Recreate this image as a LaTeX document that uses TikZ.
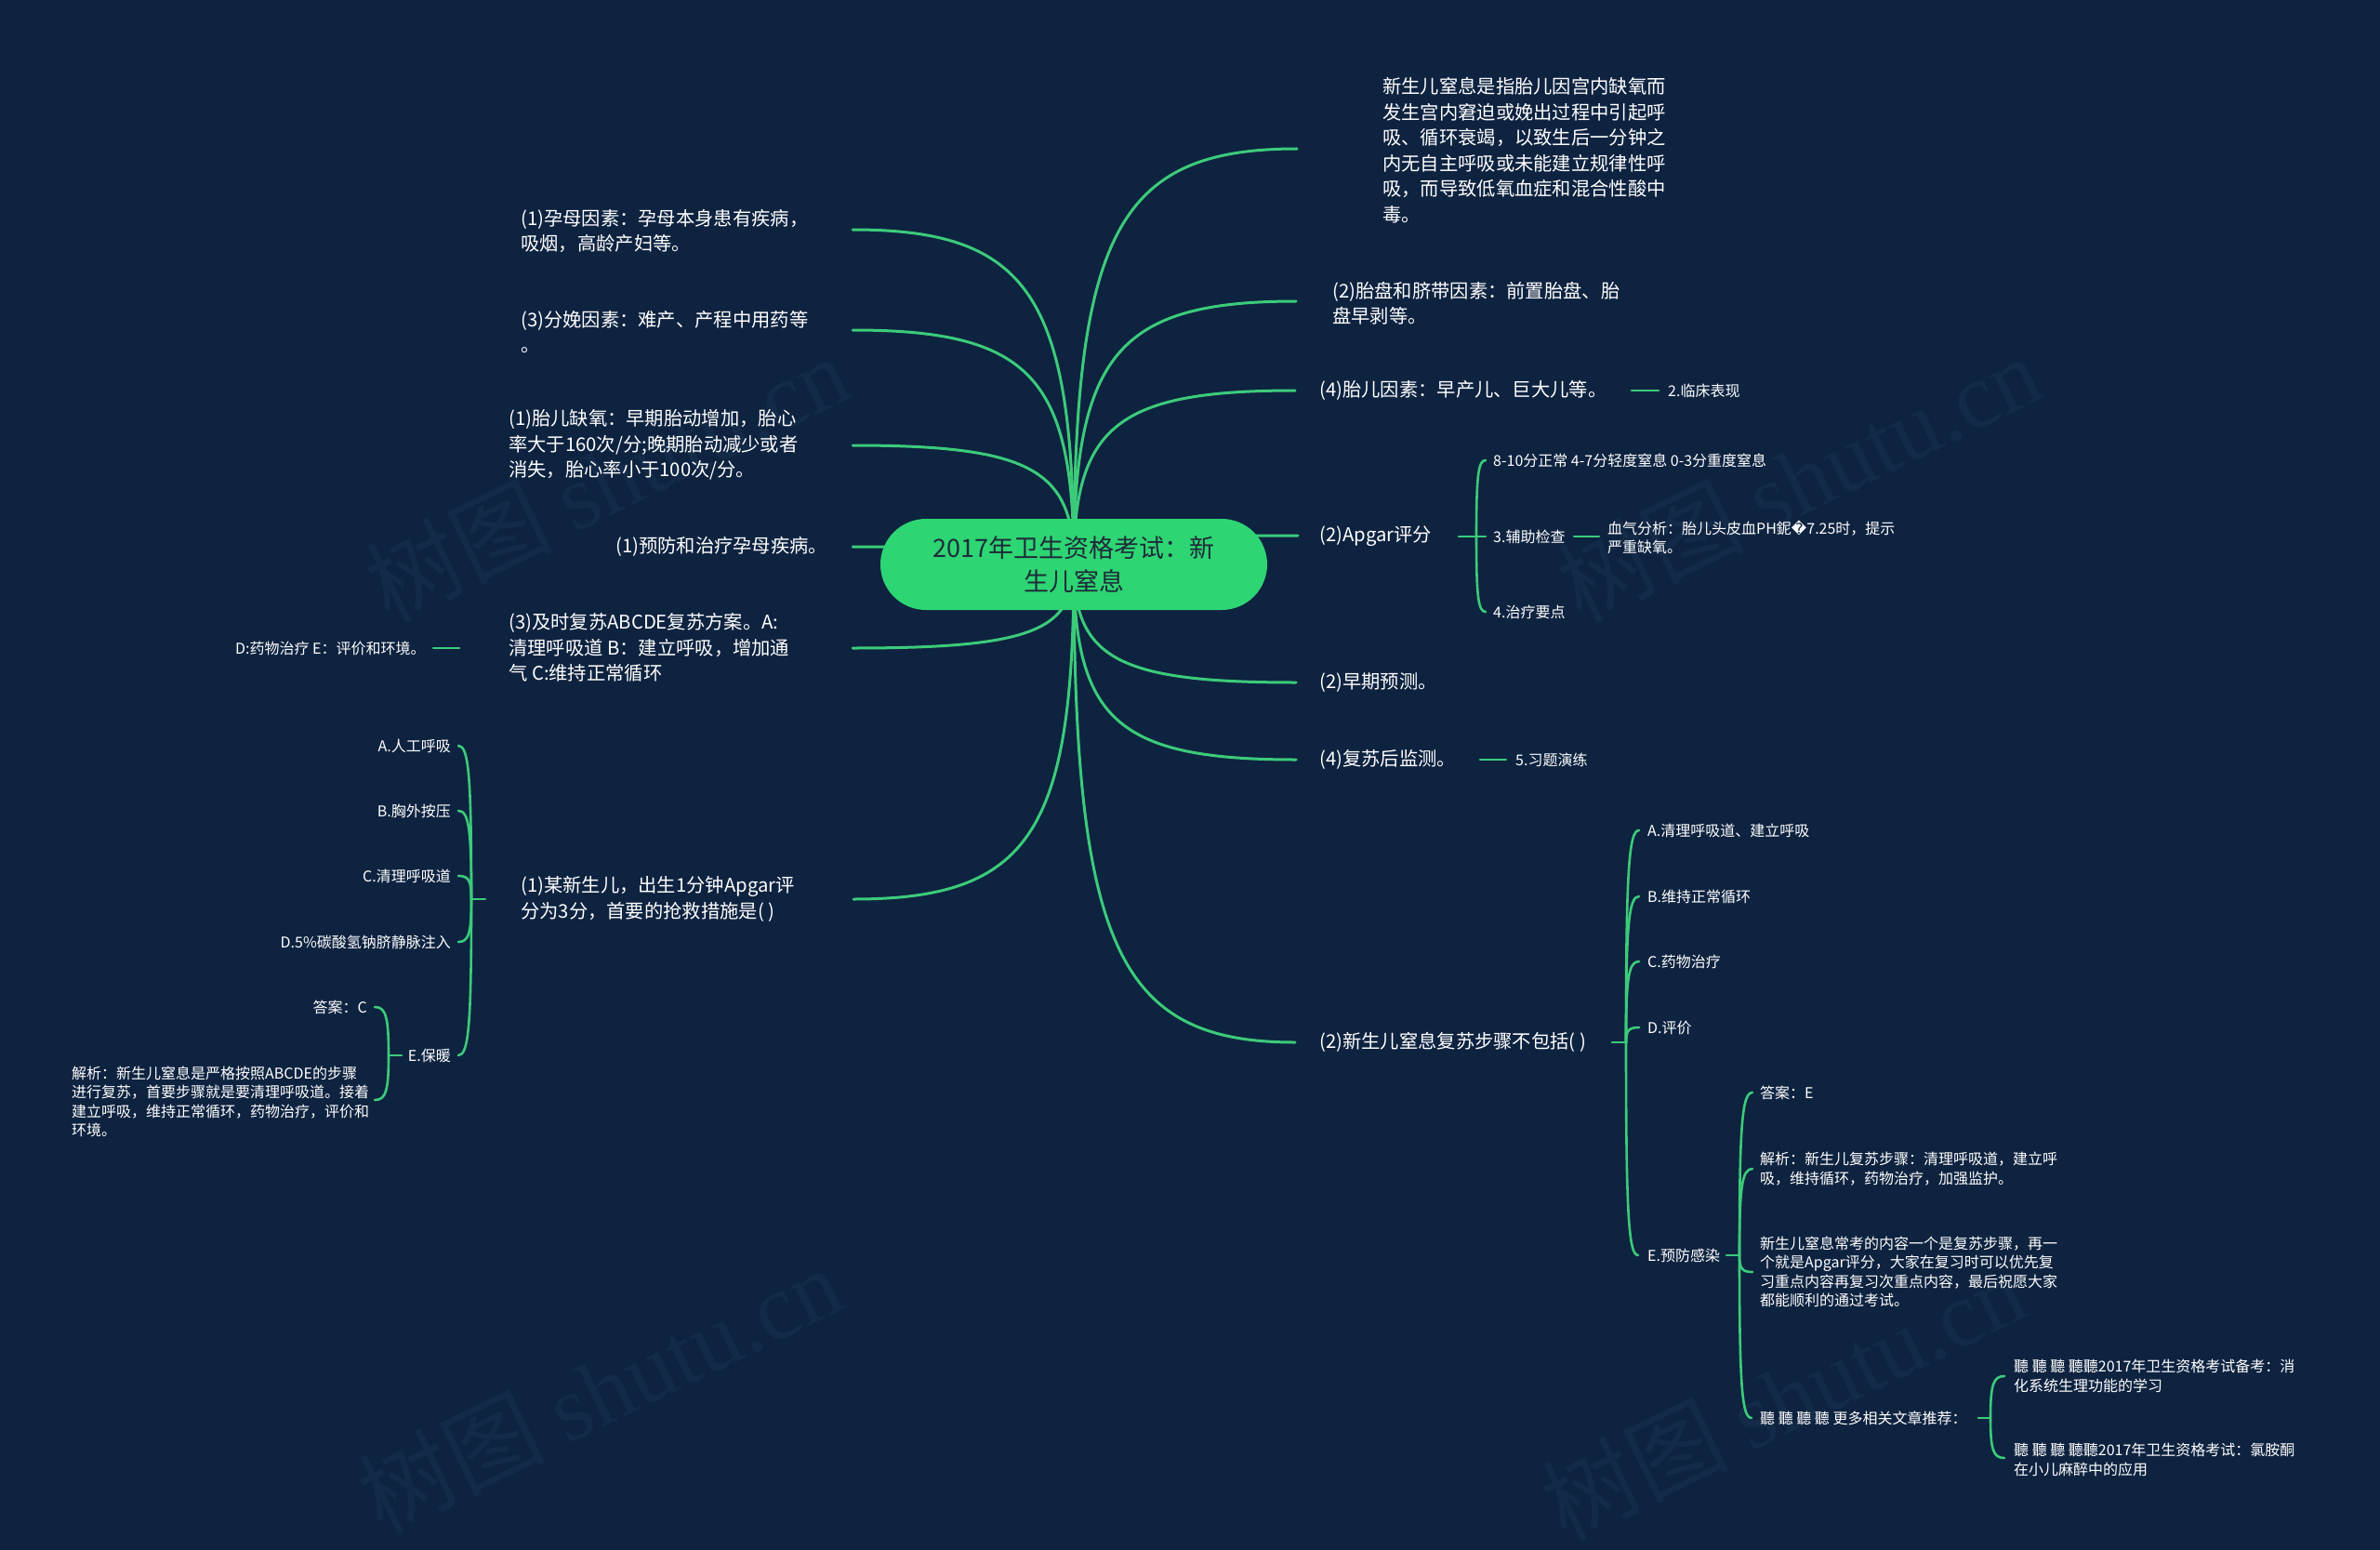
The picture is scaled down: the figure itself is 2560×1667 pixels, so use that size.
\documentclass[tikz,border=0pt]{standalone}
\usepackage{fontspec}
\setmainfont{Noto Sans CJK SC}
\newfontfamily\dejavu{DejaVu Sans}
\newfontfamily\wmserif{Liberation Serif}
\usetikzlibrary{calc}
\definecolor{bgc}{HTML}{0E2340}
\definecolor{lnc}{HTML}{3CCB7A}
\definecolor{ctrfill}{HTML}{2ED573}
\definecolor{ctrtext}{HTML}{1E2B3A}
\definecolor{wmc}{HTML}{132A48}
\pgfdeclarelayer{bglayer}
\pgfdeclarelayer{edgelayer}
\pgfsetlayers{bglayer,edgelayer,main}
\begin{document}
\begin{tikzpicture}[x=1pt,y=-1pt,
  txt/.style={text=white, inner sep=0pt, align=left, font=\fontsize{20.3}{27.5}\selectfont},
  sm/.style={text=white, inner sep=0pt, align=left, font=\fontsize{16}{20.5}\selectfont},
  ln/.style={draw=lnc, line width=3pt, line cap=round},
  bl/.style={draw=lnc, line width=2.6pt, line cap=round},
  wm/.style={text=wmc, inner sep=0pt, rotate=26, font=\fontsize{100}{110}\selectfont},
  brc/.style={to path={.. controls ($(\tikztostart)!0.8!(\tikztostart|-\tikztotarget)$) and ($(\tikztotarget)!0.8!(\tikztostart|-\tikztotarget)$) .. (\tikztotarget) \tikztonodes}},
]
\useasboundingbox (0,0) rectangle (2560,1667);
\begin{pgfonlayer}{bglayer}
\fill[bgc] (0,0) rectangle (2560,1667);
\node[wm] (wm1) at (653,514) {树图 {\wmserif shutu.cn}};
\node[wm] (wm2) at (1935,514) {树图 {\wmserif shutu.cn}};
\node[wm] (wm3) at (645,1494) {树图 {\wmserif shutu.cn}};
\node[wm] (wm4) at (1918,1502) {树图 {\wmserif shutu.cn}};
\end{pgfonlayer}

% centre
\node[fill=ctrfill, rounded corners=49pt, minimum width=416pt, minimum height=98pt, text=ctrtext, align=center, font=\fontsize{27}{36}\selectfont, inner sep=0pt] (ctr) at (1155,607) {2017年卫生资格考试：新\\生儿窒息};

% right side texts
\node[txt, anchor=west] (r1) at (1487,161.5) {新生儿窒息是指胎儿因宫内缺氧而\\发生宫内窘迫或娩出过程中引起呼\\吸、循环衰竭，以致生后一分钟之\\内无自主呼吸或未能建立规律性呼\\吸，而导致低氧血症和混合性酸中\\毒。};
\node[txt, anchor=west] (r2) at (1433,326) {(2)胎盘和脐带因素：前置胎盘、胎\\盘早剥等。};
\node[txt, anchor=west] (r3) at (1419,420) {(4)胎儿因素：早产儿、巨大儿等。};
\node[sm, anchor=west] (r3a) at (1794,420) {2.临床表现};
\node[txt, anchor=west] (r4) at (1419,577) {(2)Apgar评分};
\node[sm, anchor=west] (r4a) at (1606,495) {8-10分正常 4-7分轻度窒息 0-3分重度窒息};
\node[sm, anchor=west] (r4b) at (1606,577) {3.辅助检查};
\node[sm, anchor=west] (r4b1) at (1729,578) {血气分析：胎儿头皮血PH鈮{\dejavu �}7.25时，提示\\严重缺氧。};
\node[sm, anchor=west] (r4c) at (1606,658) {4.治疗要点};
\node[txt, anchor=west] (r5) at (1419,734) {(2)早期预测。};
\node[txt, anchor=west] (r6) at (1419,817) {(4)复苏后监测。};
\node[sm, anchor=west] (r6a) at (1630,817) {5.习题演练};
\node[txt, anchor=west] (r7) at (1419,1121) {(2)新生儿窒息复苏步骤不包括( )};
\node[sm, anchor=west] (r7a) at (1772,893) {A.清理呼吸道、建立呼吸};
\node[sm, anchor=west] (r7b) at (1772,964) {B.维持正常循环};
\node[sm, anchor=west] (r7c) at (1772,1034) {C.药物治疗};
\node[sm, anchor=west] (r7d) at (1772,1105) {D.评价};
\node[sm, anchor=west] (r7e) at (1772,1350) {E.预防感染};
\node[sm, anchor=west] (e1) at (1893,1175) {答案：E};
\node[sm, anchor=west] (e2) at (1893,1257) {解析：新生儿复苏步骤：清理呼吸道，建立呼\\吸，维持循环，药物治疗，加强监护。};
\node[sm, anchor=west] (e3) at (1893,1368) {新生儿窒息常考的内容一个是复苏步骤，再一\\个就是Apgar评分，大家在复习时可以优先复\\习重点内容再复习次重点内容，最后祝愿大家\\都能顺利的通过考试。};
\node[sm, anchor=west] (e4) at (1893,1525) {聽 聽 聽 聽 更多相关文章推荐：};
\node[sm, anchor=west] (e41) at (2166,1480) {聽 聽 聽 聽聽2017年卫生资格考试备考：消\\化系统生理功能的学习};
\node[sm, anchor=west] (e42) at (2166,1570) {聽 聽 聽 聽聽2017年卫生资格考试：氯胺酮\\在小儿麻醉中的应用};

% left side texts
\node[txt, anchor=west] (l1) at (560,248.5) {(1)孕母因素：孕母本身患有疾病，\\吸烟，高龄产妇等。};
\node[txt, anchor=west] (l2) at (560,357) {(3)分娩因素：难产、产程中用药等\\。};
\node[txt, anchor=west] (l3) at (547,478.5) {(1)胎儿缺氧：早期胎动增加，胎心\\率大于160次/分;晚期胎动减少或者\\消失，胎心率小于100次/分。};
\node[txt, anchor=west] (l4) at (662,588) {(1)预防和治疗孕母疾病。};
\node[txt, anchor=west] (l5) at (547,696.5) {(3)及时复苏ABCDE复苏方案。A:\\清理呼吸道 B：建立呼吸，增加通\\气 C:维持正常循环};
\node[sm, anchor=west] (l5a) at (253,697) {D:药物治疗 E：评价和环境。};
\node[txt, anchor=west] (l6) at (560,967) {(1)某新生儿，出生1分钟Apgar评\\分为3分，首要的抢救措施是( )};
\node[sm, anchor=east] (l6a) at (485,802) {A.人工呼吸};
\node[sm, anchor=east] (l6b) at (485,872) {B.胸外按压};
\node[sm, anchor=east] (l6c) at (485,942) {C.清理呼吸道};
\node[sm, anchor=east] (l6d) at (485,1013) {D.5\%碳酸氢钠脐静脉注入};
\node[sm, anchor=east] (l6e) at (485,1135) {E.保暖};
\node[sm, anchor=east] (l6e1) at (395,1083) {答案：C};
\node[sm, anchor=west] (l6e2) at (77,1185) {解析：新生儿窒息是严格按照ABCDE的步骤\\进行复苏，首要步骤就是要清理呼吸道。接着\\建立呼吸，维持正常循环，药物治疗，评价和\\环境。};

% connector end points
\coordinate (er1) at (1395,160);
\coordinate (er2) at (1394,324);
\coordinate (er3) at (1393,420);
\coordinate (er4) at (1396,576);
\coordinate (er5) at (1394,734);
\coordinate (er6) at (1394,817);
\coordinate (er7) at (1393,1121);
\coordinate (el1) at (917,247);
\coordinate (el2) at (917,355);
\coordinate (el3) at (917,479);
\coordinate (el4) at (917,588);
\coordinate (el5) at (917,697);
\coordinate (el6) at (918,967);
% leaf stubs
\coordinate (s3a) at (1755,420); \coordinate (t3a) at (1784,420);
\coordinate (s6a) at (1592,817); \coordinate (t6a) at (1620,817);
\coordinate (s4b) at (1693,577); \coordinate (t4b) at (1720,577);
\coordinate (s5a) at (494,697);  \coordinate (t5a) at (466,697);
% brackets
\coordinate (sA) at (1569,577); \coordinate (jA) at (1588,577);
\coordinate (cA1) at (1598,495); \coordinate (cA2) at (1598,577); \coordinate (cA3) at (1598,658);
\coordinate (sL) at (522,967); \coordinate (jL) at (507,967);
\coordinate (cL1) at (493,802); \coordinate (cL2) at (493,872); \coordinate (cL3) at (493,942);
\coordinate (cL4) at (493,1013); \coordinate (cL5) at (493,1135);
\coordinate (sE) at (432,1135); \coordinate (jE) at (418,1135);
\coordinate (cE1) at (403,1083); \coordinate (cE2) at (403,1183);
\coordinate (sR) at (1734,1121); \coordinate (jR) at (1749,1121);
\coordinate (cR1) at (1763,893); \coordinate (cR2) at (1763,964); \coordinate (cR3) at (1763,1034);
\coordinate (cR4) at (1763,1105); \coordinate (cR5) at (1762,1350);
\coordinate (sP) at (1857,1350); \coordinate (jP) at (1871,1350);
\coordinate (cP1) at (1885,1175); \coordinate (cP2) at (1885,1257); \coordinate (cP3) at (1885,1368); \coordinate (cP4) at (1884,1525);
\coordinate (sM) at (2128,1525); \coordinate (jM) at (2141,1525);
\coordinate (cM1) at (2156,1480); \coordinate (cM2) at (2156,1568);

\begin{pgfonlayer}{edgelayer}
\foreach \e in {er1,er2,er3,er4,er5,er6,er7,el1,el2,el3,el4,el5,el6}
  \draw[ln] (ctr.center) to[brc] (\e);
\draw[bl] (s3a) -- (t3a);
\draw[bl] (s6a) -- (t6a);
\draw[bl] (s4b) -- (t4b);
\draw[bl] (s5a) -- (t5a);
\draw[bl] (sA) -- (jA);
\foreach \e in {cA1,cA2,cA3} \draw[bl] (jA) to[brc] (\e);
\draw[bl] (sL) -- (jL);
\foreach \e in {cL1,cL2,cL3,cL4,cL5} \draw[bl] (jL) to[brc] (\e);
\draw[bl] (sE) -- (jE);
\foreach \e in {cE1,cE2} \draw[bl] (jE) to[brc] (\e);
\draw[bl] (sR) -- (jR);
\foreach \e in {cR1,cR2,cR3,cR4,cR5} \draw[bl] (jR) to[brc] (\e);
\draw[bl] (sP) -- (jP);
\foreach \e in {cP1,cP2,cP3,cP4} \draw[bl] (jP) to[brc] (\e);
\draw[bl] (sM) -- (jM);
\foreach \e in {cM1,cM2} \draw[bl] (jM) to[brc] (\e);
\end{pgfonlayer}
\end{tikzpicture}
\end{document}
